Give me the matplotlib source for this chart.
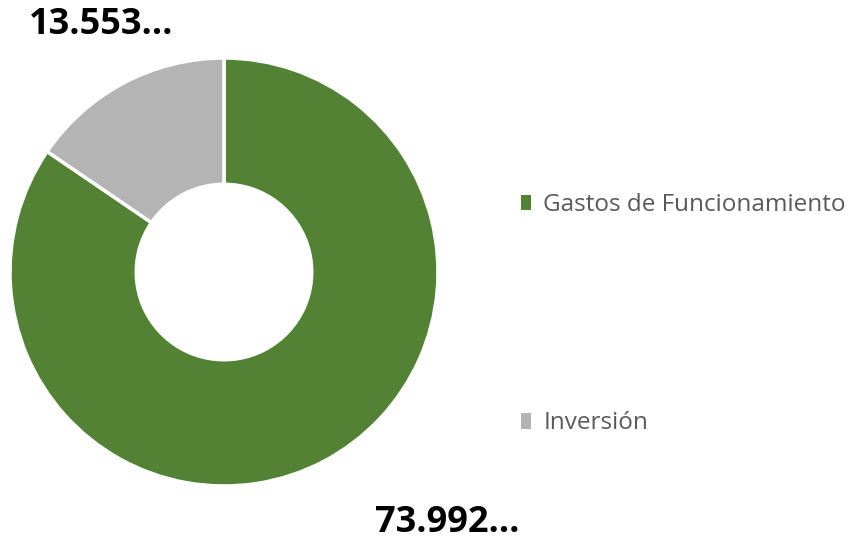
import matplotlib.pyplot as plt
from matplotlib.patches import Patch

categorias = ['Gastos de Funcionamiento', 'Inversión']
valores = [73.992, 13.553]
etiquetas = ['73.992…', '13.553…']
colores = ['#548235', '#B4B4B4']

plt.rcParams['font.family'] = ['Open Sans', 'DejaVu Sans']

fig = plt.figure(figsize=(8.51, 5.40), dpi=100)
ax = fig.add_axes([10 / 851, 54 / 540, 428 / 851, 428 / 540])

patches, _ = ax.pie(valores, colors=colores, startangle=90, counterclock=False,
                    radius=1, wedgeprops=dict(width=0.59, edgecolor='white', linewidth=2.5))
ax.set_xlim(-1, 1)
ax.set_ylim(-1, 1)
ax.set_aspect('equal')
ax.axis('off')

# etiquetas de datos
fig.text(101 / 851, 1 - 25 / 540, etiquetas[1], ha='center', va='center',
         fontsize=26, fontweight='bold', color='black')
fig.text(447 / 851, 1 - 523 / 540, etiquetas[0], ha='center', va='center',
         fontsize=26, fontweight='bold', color='black')

fs = 17.5
handles = [Patch(facecolor=p.get_facecolor(), edgecolor='none') for p in patches]
leg = fig.legend(handles, categorias, loc='upper left', bbox_to_anchor=(521 / 851, 1 - 193 / 540),
                 frameon=False, fontsize=fs, handlelength=0.42, handleheight=0.6,
                 handletextpad=0.5, labelspacing=8.0, borderpad=0, borderaxespad=0)
for t in leg.get_texts():
    t.set_color('#595959')

plt.savefig('out.png', dpi=100)
